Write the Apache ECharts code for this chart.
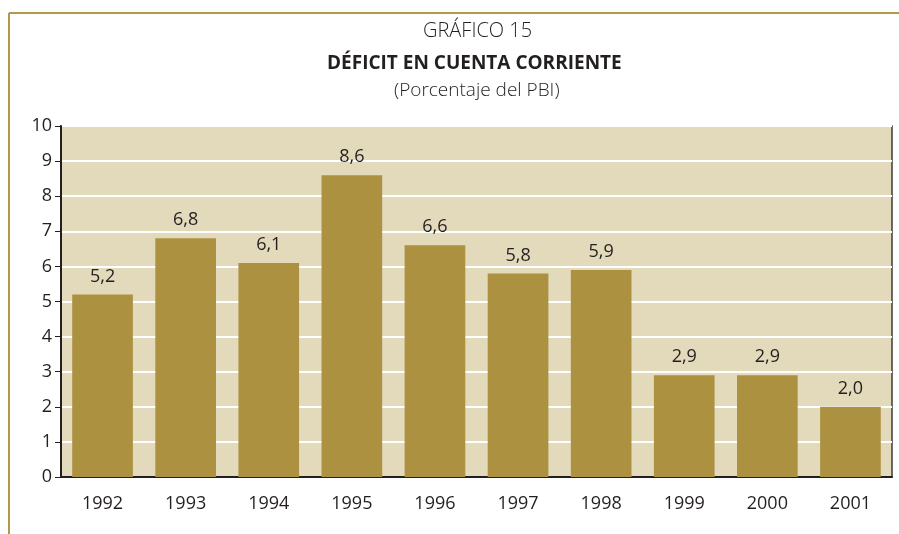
<!DOCTYPE html>
<html>
<head>
<meta charset="utf-8">
<script src="https://cdn.jsdelivr.net/npm/echarts@6/dist/echarts.min.js"></script>
<style>
  html, body { margin: 0; padding: 0; background: #fff; }
  #chart { width: 899px; height: 534px; }
</style>
</head>
<body>
<div id="chart"></div>
<script>
const years = ['1992', '1993', '1994', '1995', '1996', '1997', '1998', '1999', '2000', '2001'];
const deficit = [5.2, 6.8, 6.1, 8.6, 6.6, 5.8, 5.9, 2.9, 2.9, 2.0];
const yTicks = [0, 1, 2, 3, 4, 5, 6, 7, 8, 9, 10];

const gold = '#ab9140';
const textColor = '#231f20';
const font = 'Open Sans';

const chart = echarts.init(document.getElementById('chart'));

chart.setOption({
  animation: false,
  textStyle: { fontFamily: font },
  graphic: [
    { type: 'line', shape: { x1: 9, y1: 13, x2: 899, y2: 13 }, style: { stroke: '#b39a4a', lineWidth: 2 } },
    { type: 'line', shape: { x1: 9, y1: 13, x2: 9, y2: 534 }, style: { stroke: '#b39a4a', lineWidth: 2 } },
    { type: 'text', left: 423, top: 21, style: { text: 'GRÁFICO 15', font: '300 20px "Open Sans"', fill: textColor } },
    { type: 'text', left: 327, top: 54, style: { text: 'DÉFICIT EN CUENTA CORRIENTE', font: 'bold 19px "Open Sans"', fill: textColor } },
    { type: 'text', left: 394, top: 81, style: { text: '(Porcentaje del PBI)', font: '300 19px "Open Sans"', fill: textColor } }
  ],
  grid: {
    left: 61,
    right: 7,
    top: 126,
    bottom: 57,
    show: true,
    backgroundColor: '#e3d9bb',
    borderColor: '#3a3a3a',
    borderWidth: 1.5
  },
  xAxis: {
    type: 'category',
    data: years,
    axisLine: { lineStyle: { color: '#231f20', width: 2 } },
    axisTick: { show: false },
    axisLabel: { color: textColor, fontSize: 18, margin: 18, fontFamily: font }
  },
  yAxis: {
    type: 'value',
    min: 0,
    max: 10,
    interval: 1,
    axisLine: { show: true, lineStyle: { color: '#231f20', width: 2 } },
    axisTick: { show: true, length: 6, lineStyle: { color: '#231f20' } },
    axisLabel: {
      color: textColor,
      fontSize: 18,
      margin: 9,
      fontFamily: font,
      formatter: v => yTicks.includes(v) ? String(v) : ''
    },
    splitLine: { lineStyle: { color: '#ffffff', width: 2 } }
  },
  series: [{
    type: 'bar',
    data: deficit,
    barCategoryGap: '27%',
    itemStyle: { color: gold },
    label: {
      show: true,
      position: 'top',
      distance: 9,
      color: textColor,
      fontSize: 18,
      fontFamily: font,
      formatter: p => p.value.toFixed(1).replace('.', ',')
    }
  }]
});
</script>
</body>
</html>
